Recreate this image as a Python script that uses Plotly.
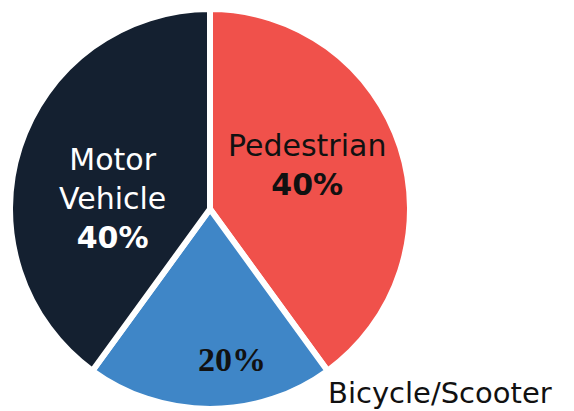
import plotly.graph_objects as go

labels = ["Pedestrian", "Bicycle/Scooter", "Motor Vehicle"]
values = [40, 20, 40]
colors = ["#f0514b", "#3f86c7", "#142030"]

W, H = 574, 411


def px_(x, y):
    return x / W, 1 - y / H


fig = go.Figure(go.Pie(
    labels=labels, values=values, sort=False, direction="clockwise", rotation=0,
    marker=dict(colors=colors, line=dict(color="white", width=6)),
    textinfo="none", hoverinfo="label+percent", showlegend=False,
    domain=dict(x=[10 / W, 410 / W], y=[2 / H, 402 / H]),
))

pct = [f"{round(v / sum(values) * 100)}%" for v in values]
sans = "DejaVu Sans, sans-serif"
ann = [
    (labels[0] + "<br><b>" + pct[0] + "</b>", 307, 165, "#111111", sans, 30),
    (labels[2].replace(" ", "<br>") + "<br><b>" + pct[2] + "</b>", 112, 198, "white", sans, 30),
    ("<b>" + pct[1] + "</b>", 232, 359, "#111111", "Liberation Serif, serif", 34),
    (labels[1], 440, 393, "#111111", sans, 29),
]
for txt, x, y, c, f, s in ann:
    ax, ay = px_(x, y)
    fig.add_annotation(x=ax, y=ay, xref="paper", yref="paper", text=txt, showarrow=False,
                       font=dict(family=f, size=s, color=c), xanchor="center", yanchor="middle")

fig.update_layout(width=W, height=H, margin=dict(l=0, r=0, t=0, b=0),
                  paper_bgcolor="white", plot_bgcolor="white")
fig.write_html("out.html", config={"displayModeBar": False},
               post_script="document.body.style.margin='0';")
